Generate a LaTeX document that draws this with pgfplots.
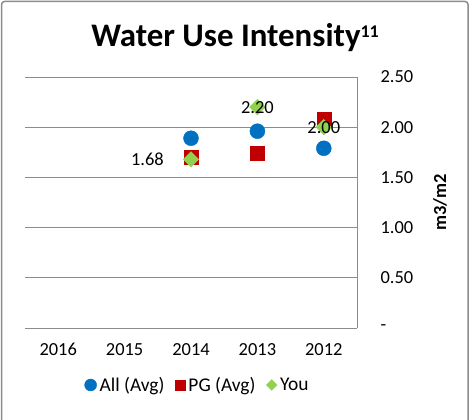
\documentclass[border=0pt]{standalone}
\usepackage{pgfplots}
\pgfplotsset{compat=1.18}
\usepackage{fontspec}
\setmainfont{Carlito}
\definecolor{cblue}{HTML}{0070C0}
\definecolor{cred}{HTML}{C00000}
\definecolor{cgreen}{HTML}{92D050}
\definecolor{gridgray}{HTML}{8C8C8C}
\begin{document}
\begin{tikzpicture}
\useasboundingbox (0,0) rectangle (474bp,420bp);
\draw[color=gridgray, line width=1.5bp, rounded corners=3bp] (1.5bp,-10bp) rectangle (468bp,418.5bp);
\node[font=\fontsize{33}{38}\selectfont\bfseries] at (235bp,382bp) {Water Use Intensity\raisebox{9bp}{\fontsize{18}{20}\selectfont 11}};
\begin{axis}[
  at={(25bp,92bp)}, anchor=south west,
  scale only axis, width=332bp, height=251bp,
  xmin=-0.5, xmax=4.5, ymin=0, ymax=2.5,
  xtick={0,1,2,3,4}, xticklabels={2016,2015,2014,2013,2012},
  ytick={0,0.5,1,1.5,2,2.5}, yticklabels={-,0.50,1.00,1.50,2.00,2.50},
  axis y line*=right, axis x line*=bottom,
  axis line style={draw=gridgray, -}, x axis line style={draw=none},
  major tick length=0pt,
  ymajorgrids, grid style={gridgray, line width=0.8bp},
  tick label style={font=\fontsize{18.5}{20}\selectfont},
  yticklabel style={anchor=west, xshift=20bp},
  xticklabel style={anchor=north, yshift=-12bp},
  ylabel={m3/m2},
  every axis y label/.style={at={(rel axis cs:1.25,0.5)}, rotate=90, anchor=center, font=\fontsize{18.5}{20}\selectfont\bfseries},
  legend style={at={(rel axis cs:0.52,0)}, anchor=center, yshift=-57bp, draw=none, fill=none,
    font=\fontsize{19.5}{21}\selectfont, legend columns=-1,
    /tikz/every even column/.append style={column sep=9bp},
    /tikz/every odd column/.append style={column sep=1bp},
    inner sep=0pt},
  legend image code/.code={\draw[#1] plot coordinates {(0bp,0bp)};},
]
\addlegendimage{only marks, mark=*, mark size=6bp, mark options={draw=cblue, fill=cblue}}
\addlegendentry{All (Avg)}
\addlegendimage{only marks, mark=square*, mark size=5bp, mark options={draw=cred, fill=cred}}
\addlegendentry{PG (Avg)}
\addlegendimage{only marks, mark=square*, mark size=3.8bp, mark options={draw=cgreen, fill=cgreen, rotate=45}}
\addlegendentry{You}

\addplot[forget plot, only marks, mark=*, mark size=7.5bp, mark options={draw=cblue, fill=cblue}]
  coordinates {(2,1.89) (3,1.96) (4,1.79)};
\addplot[forget plot, only marks, mark=square*, mark size=7bp, mark options={draw=cred, fill=cred}]
  coordinates {(2,1.70) (3,1.74) (4,2.08)};
\addplot[forget plot, only marks, mark=square*, mark size=5.5bp, mark options={draw=cgreen, fill=cgreen, rotate=45}]
  coordinates {(2,1.68) (3,2.20) (4,2.00)};
% data labels
\addplot[forget plot, only marks, mark=none, nodes near coords, point meta=explicit symbolic,
  nodes near coords style={anchor=center, font=\fontsize{18.5}{20}\selectfont, inner sep=0pt}]
  coordinates {(3,2.20) [2.20] (4,2.00) [2.00]};
\addplot[forget plot, only marks, mark=none, nodes near coords, point meta=explicit symbolic,
  nodes near coords style={anchor=east, xshift=-27bp, font=\fontsize{18.5}{20}\selectfont, inner sep=0pt}]
  coordinates {(2,1.68) [1.68]};
\end{axis}
\end{tikzpicture}
\end{document}
